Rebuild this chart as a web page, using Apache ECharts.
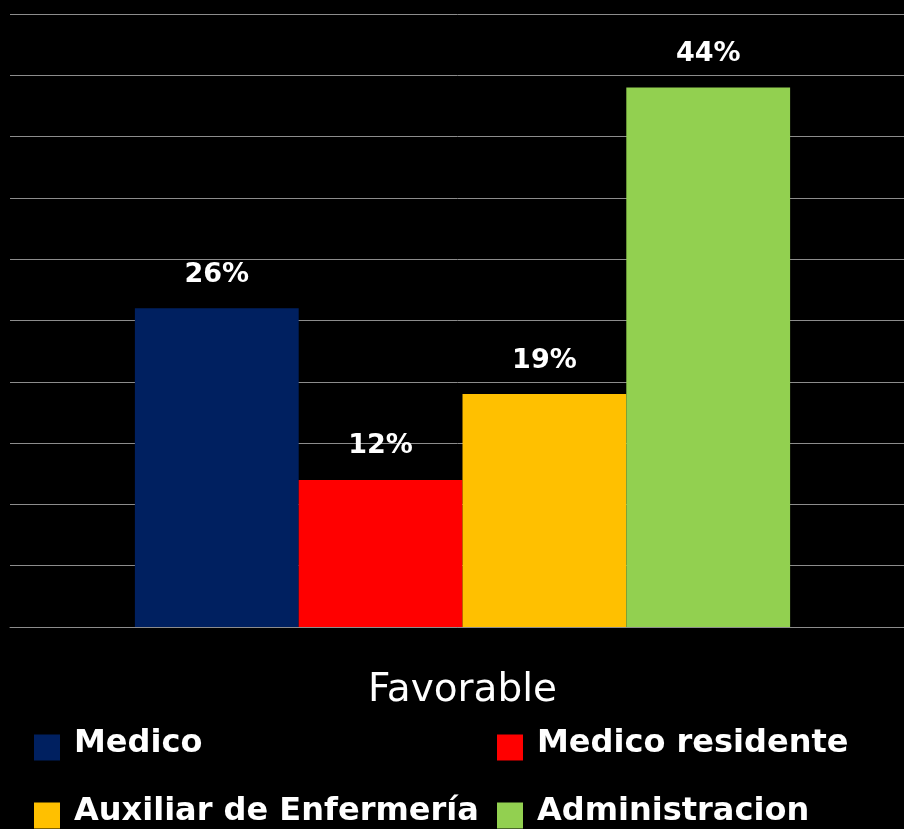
<!DOCTYPE html>
<html>
<head>
<meta charset="utf-8">
<style>
  html, body { margin: 0; padding: 0; background: #000; }
  #chart { width: 904px; height: 829px; }
</style>
<script src="https://cdn.jsdelivr.net/npm/echarts@6/dist/echarts.min.js"></script>
</head>
<body>
<div id="chart"></div>
<script>
// Share of "Favorable" answers by staff group (percent)
const categories = ['Favorable'];
const groups = ['Medico', 'Medico residente', 'Auxiliar de Enfermería', 'Administracion'];
const values = [26, 12, 19, 44];
const colors = ['#002060', '#FF0000', '#FFC000', '#92D050'];

const labelFont = 'DejaVu Sans';

const series = groups.map((name, i) => ({
  name: name,
  type: 'bar',
  data: [values[i]],
  itemStyle: { color: colors[i] },
  barGap: '0%',
  barCategoryGap: '27.6%',
  label: {
    show: true,
    position: 'top',
    distance: 20,
    formatter: '{c}%',
    color: '#fff',
    fontFamily: labelFont,
    fontWeight: 'bold',
    fontSize: 27
  }
}));

// legend: two columns, two rows, one legend block per entry
const legendSlots = [
  { left: 34, top: 728 },
  { left: 497, top: 728 },
  { left: 34, top: 796 },
  { left: 497, top: 796 }
];
const legends = groups.map((name, i) => ({
  data: [name],
  left: legendSlots[i].left,
  top: legendSlots[i].top,
  itemWidth: 26,
  itemHeight: 26,
  icon: 'rect',
  padding: 0,
  formatter: '{t|{name}}',
  textStyle: {
    color: '#fff',
    fontFamily: labelFont,
    fontWeight: 'bold',
    fontSize: 32,
    rich: {
      t: {
        color: '#fff',
        fontFamily: labelFont,
        fontWeight: 'bold',
        fontSize: 32,
        lineHeight: 36,
        padding: [0, 0, 7, 9]
      }
    }
  }
}));

const chart = echarts.init(document.getElementById('chart'));
chart.setOption({
  backgroundColor: '#000',
  animation: false,
  grid: {
    left: 10, right: -11, top: 14, bottom: 202,
    containLabel: false,
    outerBoundsMode: 'none'
  },
  xAxis: {
    type: 'category',
    data: categories,
    axisLine: { show: true, lineStyle: { color: '#8c8c8c', width: 1 } },
    axisTick: { show: false },
    axisLabel: {
      color: '#fff',
      fontFamily: labelFont,
      fontSize: 39,
      margin: 44
    }
  },
  yAxis: {
    type: 'value',
    min: 0,
    max: 50,
    interval: 5,
    axisLabel: { show: false },
    axisLine: { show: false },
    axisTick: { show: false },
    splitLine: { show: true, lineStyle: { color: '#8c8c8c', width: 1 } }
  },
  legend: legends,
  series: series
});
</script>
</body>
</html>
